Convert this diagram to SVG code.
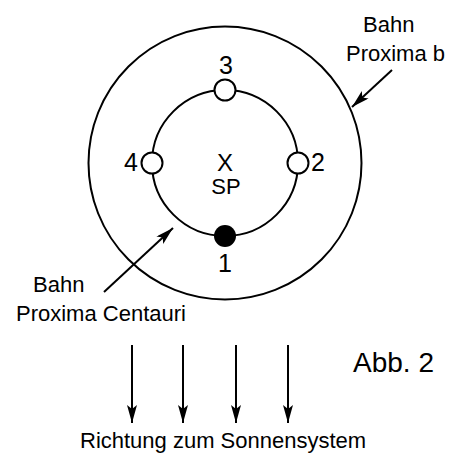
<svg xmlns="http://www.w3.org/2000/svg" width="451" height="455" viewBox="0 0 451 455">
<defs>
<style>
.ln{fill:none;stroke:#000;stroke-width:2}
.t{font-family:"Liberation Sans",Arial,sans-serif;font-size:22px;fill:#000}
.n{font-family:"Liberation Sans",Arial,sans-serif;font-size:25px;fill:#000}
.pl{fill:#fff;stroke:#000;stroke-width:2}
</style>
<marker id="ahb" viewBox="0 0 18 10" refX="18" refY="5" markerWidth="18" markerHeight="10" markerUnits="userSpaceOnUse" orient="auto">
<path d="M0,0 L18,5 L0,10 L4,5 Z" fill="#000"/>
</marker>
</defs>
<rect width="451" height="455" fill="#fff"/>
<g id="orbit-b"><circle class="ln" cx="225" cy="163" r="136.5"/></g>
<g id="orbit-c"><circle class="ln" cx="225" cy="163" r="73"/></g>
<g id="sp"><text class="t" x="225" y="171" text-anchor="middle" style="font-size:24px">X</text><text class="t" x="226" y="194" text-anchor="middle">SP</text></g>
<g id="p1"><circle cx="225" cy="236" r="11" fill="#000"/><text class="n" x="225" y="272" text-anchor="middle">1</text></g>
<g id="p2"><circle class="pl" cx="298" cy="163" r="10.5"/><text class="n" x="311" y="171">2</text></g>
<g id="p3"><circle class="pl" cx="225" cy="90" r="10.5"/><text class="n" x="226" y="74" text-anchor="middle">3</text></g>
<g id="p4"><circle class="pl" cx="152" cy="163" r="10.5"/><text class="n" x="138" y="171" text-anchor="end">4</text></g>
<g id="label-b"><text class="t" x="363" y="32">Bahn</text><text class="t" x="346" y="61">Proxima b</text></g>
<g id="label-c"><text class="t" x="33" y="292">Bahn</text><text class="t" x="16" y="321">Proxima Centauri</text></g>
<g id="abb"><text class="t" x="353" y="372" style="font-size:28px">Abb. 2</text></g>
<g id="richtung"><text class="t" x="80" y="448">Richtung zum Sonnensystem</text></g>
<g id="connectors">
<line class="ln" x1="392" y1="70" x2="352" y2="107" marker-end="url(#ahb)"/>
<line class="ln" x1="104" y1="292" x2="173" y2="228" marker-end="url(#ahb)"/>
<line class="ln" x1="132" y1="345" x2="132" y2="423" marker-end="url(#ahb)"/>
<line class="ln" x1="183" y1="345" x2="183" y2="423" marker-end="url(#ahb)"/>
<line class="ln" x1="236" y1="345" x2="236" y2="423" marker-end="url(#ahb)"/>
<line class="ln" x1="288" y1="345" x2="288" y2="423" marker-end="url(#ahb)"/>
</g>
</svg>
